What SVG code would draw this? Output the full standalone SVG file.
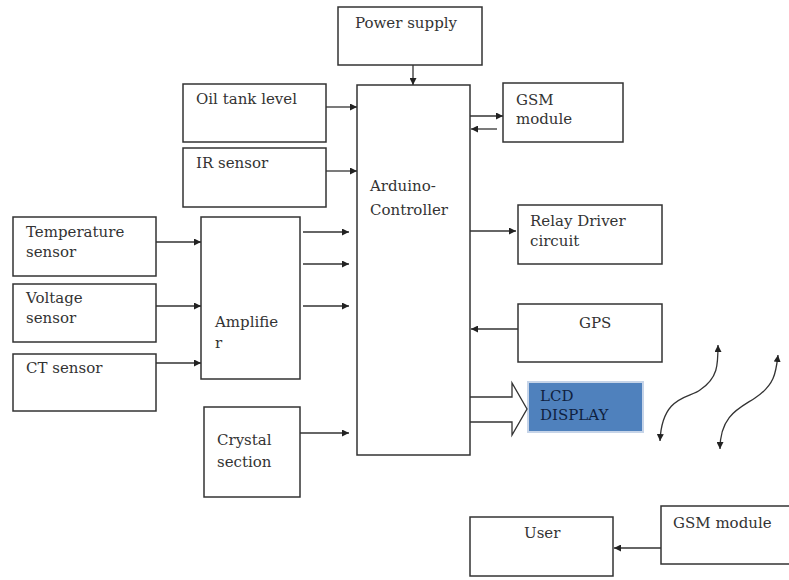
<svg xmlns="http://www.w3.org/2000/svg" width="789" height="580" viewBox="0 0 789 580">
<defs>
<marker id="ah" viewBox="0 0 10 10" refX="10" refY="5" markerWidth="7" markerHeight="7" markerUnits="userSpaceOnUse" orient="auto-start-reverse">
<path d="M0,0 L10,5 L0,10 z" fill="#222"/>
</marker>
<style>
.box{fill:#fff;stroke:#333;stroke-width:1.5}
.t{font-family:"DejaVu Serif","Liberation Serif",serif;font-size:15px;fill:#333}
.c{fill:none;stroke:#333;stroke-width:1.3}
</style>
</defs>
<rect width="789" height="580" fill="#fff"/>
<g id="power"><rect class="box" x="338" y="7" width="144" height="58"/><text class="t" x="355" y="28">Power supply</text></g>
<g id="arduino"><rect class="box" x="357" y="85" width="113" height="370"/><text class="t" x="370" y="191">Arduino-</text><text class="t" x="370" y="215">Controller</text></g>
<g id="gsm1"><rect class="box" x="503" y="83" width="120" height="59"/><text class="t" x="516" y="105">GSM</text><text class="t" x="516" y="124">module</text></g>
<g id="oil"><rect class="box" x="183" y="84" width="143" height="58"/><text class="t" x="196" y="104">Oil tank level</text></g>
<g id="ir"><rect class="box" x="183" y="148" width="143" height="59"/><text class="t" x="196" y="168">IR sensor</text></g>
<g id="temp"><rect class="box" x="13" y="217" width="143" height="59"/><text class="t" x="26" y="237">Temperature</text><text class="t" x="26" y="257">sensor</text></g>
<g id="volt"><rect class="box" x="13" y="284" width="143" height="58"/><text class="t" x="26" y="303">Voltage</text><text class="t" x="26" y="323">sensor</text></g>
<g id="ct"><rect class="box" x="13" y="354" width="143" height="57"/><text class="t" x="26" y="373">CT sensor</text></g>
<g id="amp"><rect class="box" x="201" y="217" width="99" height="162"/><text class="t" x="215" y="327">Amplifie</text><text class="t" x="215" y="348">r</text></g>
<g id="crystal"><rect class="box" x="204" y="407" width="96" height="90"/><text class="t" x="217" y="445">Crystal</text><text class="t" x="217" y="467">section</text></g>
<g id="relay"><rect class="box" x="518" y="205" width="144" height="59"/><text class="t" x="530" y="226">Relay Driver</text><text class="t" x="530" y="246">circuit</text></g>
<g id="gps"><rect class="box" x="518" y="304" width="144" height="58"/><text class="t" x="579" y="328">GPS</text></g>
<g id="lcd"><rect x="528" y="382" width="115" height="50" fill="#4f81bd" stroke="#c6d4e8" stroke-width="2"/><text class="t" x="540" y="401" style="fill:#0f1f3f">LCD</text><text class="t" x="540" y="420" style="fill:#0f1f3f">DISPLAY</text></g>
<g id="user"><rect class="box" x="470" y="517" width="143" height="59"/><text class="t" x="524" y="538">User</text></g>
<g id="gsm2"><rect class="box" x="661" y="506" width="130" height="58"/><text class="t" x="673" y="528">GSM module</text></g>
<g id="connectors">
<path class="c" d="M413,65 V85" marker-end="url(#ah)"/>
<path class="c" d="M326,107 H357" marker-end="url(#ah)"/>
<path class="c" d="M326,171 H357" marker-end="url(#ah)"/>
<path class="c" d="M470,116 H503" marker-end="url(#ah)"/>
<path class="c" d="M497,129 H471" marker-end="url(#ah)"/>
<path class="c" d="M156,242 H201" marker-end="url(#ah)"/>
<path class="c" d="M156,306 H201" marker-end="url(#ah)"/>
<path class="c" d="M156,363 H201" marker-end="url(#ah)"/>
<path class="c" d="M303,232 H349" marker-end="url(#ah)"/>
<path class="c" d="M303,264 H349" marker-end="url(#ah)"/>
<path class="c" d="M303,306 H349" marker-end="url(#ah)"/>
<path class="c" d="M300,433 H349" marker-end="url(#ah)"/>
<path class="c" d="M470,231 H516" marker-end="url(#ah)"/>
<path class="c" d="M518,329 H471" marker-end="url(#ah)"/>
<path class="c" d="M470,397 H512 V383 L527,409 L512,435 V422 H470" stroke="#444" stroke-width="1.3" fill="#fff"/>
<path class="c" d="M661,548 H614" marker-end="url(#ah)"/>
<path class="c" d="M660,441 C662,395 690,398 700,390 C718,378 718,365 718,345" marker-start="url(#ah)" marker-end="url(#ah)"/>
<path class="c" d="M720,449 C720,415 740,408 755,398 C775,385 776,372 778,355" marker-start="url(#ah)" marker-end="url(#ah)"/>
</g>
</svg>
